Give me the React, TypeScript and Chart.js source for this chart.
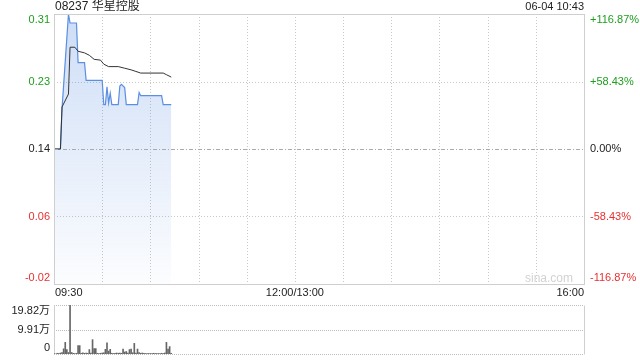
import React, { useEffect, useRef } from 'react';
import { Chart, registerables } from 'chart.js';

Chart.register(...registerables);

// ---------- data ----------
const stockTitle = '08237 华星控股';
const stampText = '06-04 10:43';
const prevClose = 0.143;
const totalMinutes = 330;

// price line (minute index since 09:30, trading time, lunch removed)
const priceMinutes = [0, 4, 5, 9, 10, 14, 15, 19, 20, 30, 31, 32, 33, 34, 35, 36, 40, 41, 42, 44, 45, 52, 53, 54, 67, 68, 73];
const priceValues = [0.143, 0.143, 0.193, 0.31, 0.299, 0.299, 0.25, 0.25, 0.228, 0.228, 0.198, 0.198, 0.22, 0.2, 0.212, 0.198, 0.198, 0.221, 0.223, 0.219, 0.198, 0.198, 0.213, 0.209, 0.209, 0.198, 0.198];

// average price line
const avgMinutes = [0, 4, 5, 9, 10, 13, 15, 19, 22, 25, 29, 31, 34, 40, 44, 48, 51, 54, 68, 70, 73];
const avgValues = [0.143, 0.143, 0.195, 0.211, 0.269, 0.269, 0.264, 0.262, 0.259, 0.254, 0.253, 0.248, 0.245, 0.245, 0.243, 0.241, 0.239, 0.237, 0.237, 0.235, 0.232];

// volume per minute (万股), minute 0..73
const volumeValues = [
  0.2, 0, 0.3, 0.2, 0.4, 0.6, 2.1, 4.7, 1.8, 0.6,
  19.82, 0.6, 0.3, 0.2, 0.3, 3.4, 3.4, 0.3, 0.5, 0.3,
  0.4, 0.3, 1.8, 0.4, 5.8, 2.2, 2.2, 0.3, 0.2, 0.3,
  0.4, 0.5, 1.9, 4.5, 1.2, 1.9, 0.3, 0.2, 0.3, 0.4,
  0.3, 0.4, 0.3, 2.0, 0.8, 1.0, 0.4, 1.8, 2.0, 0.5,
  4.3, 0.4, 2.0, 0.6, 0.3, 0.4, 0.3, 0.2, 0.2, 0.2,
  0.2, 0.2, 0.3, 0.2, 0.2, 0.2, 0.2, 0.3, 0.2, 0.4,
  4.7, 2.0, 3.0, 0.3,
];

// axis labels
const pctLevels = [1.1687, 0.5843, 0, -0.5843, -1.1687];
const priceTickLabels = ['0.31', '0.23', '0.14', '0.06', '-0.02'];
const pctTickLabels = ['+116.87%', '+58.43%', '0.00%', '-58.43%', '-116.87%'];
const gridMinutes = [30, 60, 90, 120, 150, 180, 210, 240, 270, 300];
const timeLabelMinutes = [0, 150, 330];
const timeLabels = ['09:30', '12:00/13:00', '16:00'];
const volumeMax = 19.82;
const volumeTickValues = [19.82, 9.91, 0];
const volumeTickLabels = ['19.82万', '9.91万', '0'];

// ---------- styles ----------
const FONT = '"Liberation Sans", Arial, "Noto Sans CJK SC", sans-serif';
const GREEN = '#1e9e1e';
const RED = '#e83030';
const TEXT = '#222';
const GRID = '#c8c8c8';
const BORDER = '#cfcfcf';

const px = (v: number) => Math.round(v) + 0.5;

const pricePlugin = {
  id: 'pricePlugin',
  beforeDatasetsDraw(chart: any) {
    const { ctx, chartArea: a, scales } = chart;
    const xs = scales.x;
    const ys = scales.y;
    ctx.save();
    ctx.lineWidth = 1;
    // vertical grid
    ctx.strokeStyle = GRID;
    ctx.setLineDash([1, 2]);
    gridMinutes.forEach((m) => {
      const x = px(xs.getPixelForValue(m));
      ctx.beginPath();
      ctx.moveTo(x, a.top);
      ctx.lineTo(x, a.bottom);
      ctx.stroke();
    });
    // horizontal grid
    pctLevels.forEach((p) => {
      if (Math.abs(p) > 1 || p === 0) return;
      const y = px(ys.getPixelForValue(prevClose * (1 + p)));
      ctx.beginPath();
      ctx.moveTo(a.left, y);
      ctx.lineTo(a.right, y);
      ctx.stroke();
    });
    ctx.restore();
  },
  afterDatasetsDraw(chart: any) {
    const { ctx, chartArea: a, scales } = chart;
    const xs = scales.x;
    const ys = scales.y;
    ctx.save();
    ctx.lineWidth = 1;
    // zero line (dash-dot)
    ctx.strokeStyle = '#aaaaaa';
    ctx.setLineDash([4, 2, 1, 2]);
    const y0 = px(ys.getPixelForValue(prevClose));
    ctx.beginPath();
    ctx.moveTo(a.left, y0);
    ctx.lineTo(a.right, y0);
    ctx.stroke();
    // border
    ctx.setLineDash([]);
    ctx.strokeStyle = BORDER;
    ctx.strokeRect(px(a.left), px(a.top), Math.round(a.right - a.left), Math.round(a.bottom - a.top));

    // watermark
    ctx.font = '12px ' + FONT;
    ctx.fillStyle = '#d2d2d2';
    ctx.textAlign = 'right';
    ctx.textBaseline = 'middle';
    ctx.fillText('sina.com', a.right - 11, a.bottom - 5);

    // title + stamp
    ctx.fillStyle = TEXT;
    ctx.font = '12px ' + FONT;
    ctx.textAlign = 'left';
    ctx.fillText(stockTitle, a.left + 1, 7);
    ctx.font = '11px ' + FONT;
    ctx.textAlign = 'right';
    ctx.fillText(stampText, a.right, 7);

    // y labels
    ctx.font = '11px ' + FONT;
    pctLevels.forEach((p, i) => {
      let y = ys.getPixelForValue(prevClose * (1 + p));
      if (i === 0) y += 6;
      if (i === pctLevels.length - 1) y -= 6;
      const col = p > 0 ? GREEN : p < 0 ? RED : TEXT;
      ctx.fillStyle = col;
      ctx.textAlign = 'right';
      ctx.fillText(priceTickLabels[i], a.left - 4, y);
      ctx.textAlign = 'left';
      ctx.fillText(pctTickLabels[i], a.right + 6, y);
    });

    // x labels
    ctx.fillStyle = TEXT;
    timeLabelMinutes.forEach((m, i) => {
      const x = xs.getPixelForValue(m);
      ctx.textAlign = i === 0 ? 'left' : i === timeLabelMinutes.length - 1 ? 'right' : 'center';
      ctx.fillText(timeLabels[i], x + (i === 0 ? 1 : 0), a.bottom + 9);
    });
    ctx.restore();
  },
};

const volumePlugin = {
  id: 'volumePlugin',
  beforeDatasetsDraw(chart: any) {
    const { ctx, chartArea: a, scales } = chart;
    const ys = scales.y;
    ctx.save();
    ctx.lineWidth = 1;
    ctx.strokeStyle = '#bdbdbd';
    ctx.setLineDash([1, 1]);
    volumeTickValues.forEach((v) => {
      const y = px(ys.getPixelForValue(v));
      ctx.beginPath();
      ctx.moveTo(a.left, y);
      ctx.lineTo(a.right, y);
      ctx.stroke();
    });
    ctx.setLineDash([]);
    ctx.strokeStyle = BORDER;
    [a.left, a.right].forEach((xv) => {
      const x = px(xv);
      ctx.beginPath();
      ctx.moveTo(x, px(a.top));
      ctx.lineTo(x, px(a.bottom));
      ctx.stroke();
    });
    ctx.restore();
  },
  afterDraw(chart: any) {
    const { ctx, chartArea: a, scales } = chart;
    const ys = scales.y;
    ctx.save();
    ctx.font = '11px ' + FONT;
    ctx.fillStyle = TEXT;
    ctx.textAlign = 'right';
    ctx.textBaseline = 'middle';
    volumeTickValues.forEach((v, i) => {
      let y = ys.getPixelForValue(v);
      if (i === 0) y += 6;
      if (i === volumeTickValues.length - 1) y -= 6;
      ctx.fillText(volumeTickLabels[i], a.left - 4, y);
    });
    ctx.restore();
  },
};

export default function App() {
  const priceRef = useRef<HTMLCanvasElement | null>(null);
  const volRef = useRef<HTMLCanvasElement | null>(null);

  useEffect(() => {
    const yMin = prevClose * (1 + pctLevels[pctLevels.length - 1]);
    const yMax = prevClose * (1 + pctLevels[0]);
    const priceChart = new Chart(priceRef.current as HTMLCanvasElement, {
      type: 'line',
      data: {
        datasets: [
          {
            label: 'avg',
            data: avgMinutes.map((m, i) => ({ x: m, y: avgValues[i] })),
            borderColor: '#333333',
            borderWidth: 1,
            pointRadius: 0,
            tension: 0,
            fill: false,
          },
          {
            label: 'price',
            data: priceMinutes.map((m, i) => ({ x: m, y: priceValues[i] })),
            borderColor: '#5b8fe2',
            borderWidth: 1.2,
            pointRadius: 0,
            tension: 0,
            fill: 'start',
            backgroundColor: (c: any) => {
              const { chart } = c;
              const area = chart.chartArea;
              if (!area) return 'rgba(91,143,226,0.2)';
              const g = chart.ctx.createLinearGradient(0, area.top, 0, area.bottom);
              g.addColorStop(0, 'rgba(91,143,226,0.30)');
              g.addColorStop(1, 'rgba(91,143,226,0.02)');
              return g;
            },
          },
        ],
      },
      options: {
        responsive: false,
        animation: false,
        devicePixelRatio: 1,
        layout: { padding: { left: 54, right: 56, top: 14, bottom: 16 } },
        plugins: { legend: { display: false }, tooltip: { enabled: false } },
        scales: {
          x: { type: 'linear', min: 0, max: totalMinutes, display: false },
          y: { type: 'linear', min: yMin, max: yMax, display: false },
        },
      },
      plugins: [pricePlugin],
    } as any);

    const volChart = new Chart(volRef.current as HTMLCanvasElement, {
      type: 'bar',
      data: {
        datasets: [
          {
            label: 'vol',
            data: volumeValues.map((v, i) => ({ x: i, y: v })),
            backgroundColor: '#666666',
            barThickness: 1,
          },
        ],
      },
      options: {
        responsive: false,
        animation: false,
        devicePixelRatio: 1,
        layout: { padding: { left: 54, right: 56, top: 5, bottom: 6 } },
        plugins: { legend: { display: false }, tooltip: { enabled: false } },
        scales: {
          x: { type: 'linear', min: 0, max: totalMinutes, display: false, offset: false },
          y: { type: 'linear', min: 0, max: volumeMax, display: false },
        },
      },
      plugins: [volumePlugin],
    } as any);

    return () => {
      priceChart.destroy();
      volChart.destroy();
    };
  }, []);

  return (
    <div style={{ position: 'fixed', left: 0, top: 0, width: 640, height: 360, background: '#fff' }}>
      <canvas ref={priceRef} width={640} height={300} style={{ position: 'absolute', left: 0, top: 0, width: 640, height: 300 }} />
      <canvas ref={volRef} width={640} height={60} style={{ position: 'absolute', left: 0, top: 300, width: 640, height: 60 }} />
    </div>
  );
}
